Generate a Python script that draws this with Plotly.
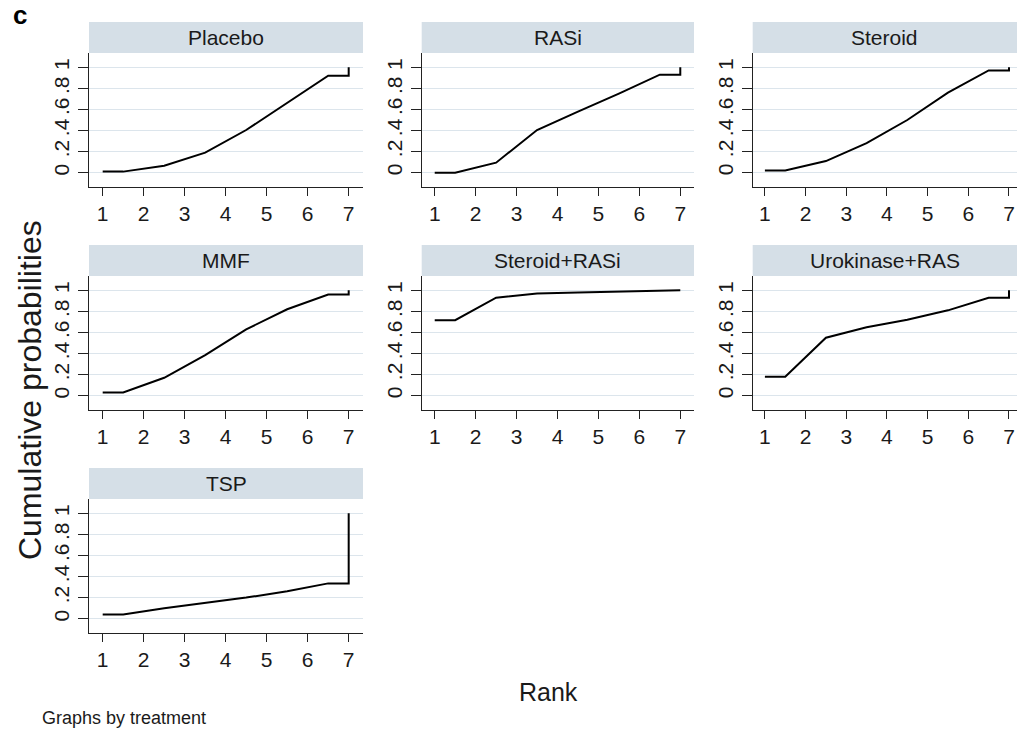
import plotly.graph_objects as go

W, H = 1017, 730

treatments = ["Placebo", "RASi", "Steroid", "MMF", "Steroid+RASi", "Urokinase+RAS", "TSP"]
rank_x = [1, 1.5, 2.5, 3.5, 4.5, 5.5, 6.5, 7, 7]
placebo = [0.01, 0.01, 0.066, 0.19, 0.405, 0.66, 0.92, 0.92, 1.0]
rasi = [0.0, 0.0, 0.095, 0.405, 0.58, 0.75, 0.93, 0.93, 1.0]
steroid = [0.02, 0.02, 0.11, 0.28, 0.50, 0.76, 0.97, 0.97, 1.0]
mmf = [0.03, 0.03, 0.17, 0.385, 0.63, 0.82, 0.96, 0.96, 1.0]
steroid_rasi = [0.716, 0.716, 0.93, 0.97, 0.98, 0.99, 1.0, 1.0, 1.0]
urokinase_ras = [0.18, 0.18, 0.55, 0.65, 0.72, 0.81, 0.93, 0.93, 1.0]
tsp = [0.04, 0.04, 0.10, 0.15, 0.20, 0.26, 0.335, 0.335, 1.0]
series = [placebo, rasi, steroid, mmf, steroid_rasi, urokinase_ras, tsp]

x_ticks = [1, 2, 3, 4, 5, 6, 7]
y_ticks = [0, 0.2, 0.4, 0.6, 0.8, 1]
y_tick_labels = ["0", ".2", ".4", ".6", ".8", "1"]

# layout in pixels
cols_px = [(89, 363), (421.7, 694), (752.7, 1017)]
xranges = [[0.666, 7.349], [0.682, 7.335], [0.70, 7.197]]
rows_px = [(53, 187), (276, 410), (499, 633)]
headers_px = [(22, 53), (245, 276), (468, 499)]

FONT = "Liberation Sans, Arial, sans-serif"
GRID = "#DCE5EC"
STRIP = "#D5DFE7"
TXT = "#1a1a1a"

fig = go.Figure()
layout = dict(
    width=W, height=H, margin=dict(l=0, r=0, t=0, b=0),
    paper_bgcolor="white", plot_bgcolor="white", showlegend=False,
    font=dict(family=FONT, color=TXT),
)
shapes = []
annotations = []

for i, (name, ys) in enumerate(zip(treatments, series)):
    r, c = divmod(i, 3)
    k = i + 1
    xa = "xaxis" if k == 1 else f"xaxis{k}"
    ya = "yaxis" if k == 1 else f"yaxis{k}"
    xref = "x" if k == 1 else f"x{k}"
    yref = "y" if k == 1 else f"y{k}"
    x0, x1 = cols_px[c]
    top, bot = rows_px[r]
    layout[xa] = dict(
        domain=[x0 / W, min(x1 / W, 1.0)], range=xranges[c], anchor=yref,
        tickmode="array", tickvals=x_ticks, ticks="outside", ticklen=8,
        tickwidth=1.3, tickcolor="#222", showline=True, linecolor="#222",
        linewidth=1.3, showgrid=False, zeroline=False,
        tickfont=dict(size=21, family=FONT, color=TXT),
    )
    layout[ya] = dict(
        domain=[1 - bot / H, 1 - top / H], range=[-0.136, 1.136], anchor=xref,
        tickmode="array", tickvals=y_ticks, ticktext=y_tick_labels,
        tickangle=-90, ticks="outside", ticklen=10, tickwidth=1.3,
        tickcolor="#222", showline=True, linecolor="#222", linewidth=1.3,
        showgrid=True, gridcolor=GRID, gridwidth=1, zeroline=False,
        tickfont=dict(size=21, family=FONT, color=TXT),
    )
    fig.add_trace(go.Scatter(
        x=rank_x, y=ys, mode="lines", xaxis=xref, yaxis=yref,
        line=dict(color="black", width=2), hoverinfo="skip",
    ))
    h0, h1 = headers_px[r]
    shapes.append(dict(
        type="rect", xref="paper", yref="paper",
        x0=x0 / W, x1=min(x1 / W, 1.0), y0=1 - h1 / H, y1=1 - h0 / H,
        fillcolor=STRIP, line=dict(width=0), layer="below",
    ))
    annotations.append(dict(
        text=name, xref="paper", yref="paper",
        x=(x0 + min(x1, 1026)) / 2 / W, y=1 - (h0 + h1) / 2 / H,
        showarrow=False, xanchor="center", yanchor="middle",
        font=dict(size=21, family=FONT, color=TXT),
    ))

annotations += [
    dict(text="Cumulative probabilities", xref="paper", yref="paper",
         x=30 / W, y=1 - 390 / H, textangle=-90, showarrow=False,
         xanchor="center", yanchor="middle",
         font=dict(size=32, family=FONT, color=TXT)),
    dict(text="Rank", xref="paper", yref="paper",
         x=548 / W, y=1 - 692 / H, showarrow=False,
         xanchor="center", yanchor="middle",
         font=dict(size=25, family=FONT, color=TXT)),
    dict(text="Graphs by treatment", xref="paper", yref="paper",
         x=40 / W, y=1 - 718 / H, showarrow=False,
         xanchor="left", yanchor="middle",
         font=dict(size=18, family=FONT, color=TXT)),
    dict(text="<b>c</b>", xref="paper", yref="paper",
         x=11 / W, y=1 - 15 / H, showarrow=False,
         xanchor="left", yanchor="middle",
         font=dict(size=26, family=FONT, color="black")),
]
layout["shapes"] = shapes
layout["annotations"] = annotations
fig.update_layout(**layout)
fig.write_html("out.html")
